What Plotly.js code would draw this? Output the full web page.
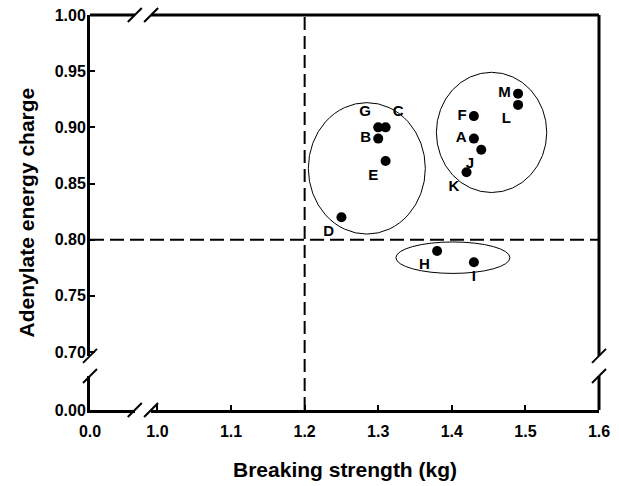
<!DOCTYPE html>
<html>
<head>
<meta charset="utf-8">
<script src="https://cdn.plot.ly/plotly-3.0.1.min.js"></script>
<style>html,body{margin:0;padding:0;background:#fff;}#chart{width:619px;height:486px;}</style>
</head>
<body>
<div id="chart"></div>
<script>
// ---- data ----
const labels   = ["A","B","C","D","E","F","G","H","I","J","K","L","M"];
const strength = [1.43,1.30,1.31,1.25,1.31,1.43,1.30,1.38,1.43,1.44,1.42,1.49,1.49];
const charge   = [0.89,0.89,0.90,0.82,0.87,0.91,0.90,0.79,0.78,0.88,0.86,0.92,0.93];
const labelPos = ["middle left","middle left","top right","bottom left","bottom left","middle left","top left","bottom left","bottom center","bottom left","bottom left","bottom left","middle left"];
// cluster ellipses: [xmin, xmax, ymin, ymax]
const clusterLeft   = [1.205, 1.364, 0.805, 0.922];
const clusterRight  = [1.379, 1.529, 0.842, 0.949];
const clusterBottom = [1.324, 1.479, 0.770, 0.798];
const refStrength = 1.2;
const refCharge = 0.80;
const xTicksHigh = [1.0,1.1,1.2,1.3,1.4,1.5,1.6];
const yTicksHigh = [0.70,0.75,0.80,0.85,0.90,0.95,1.00];

const F = "Liberation Sans, Arial, Helvetica, sans-serif";
const trace = {
  x: strength, y: charge, text: labels, textposition: labelPos,
  mode: "markers+text", type: "scatter", xaxis: "x2", yaxis: "y2",
  marker: {color: "#000", size: 10},
  textfont: {family: F, size: 15, color: "#000", weight: "bold"},
  cliponaxis: false, hoverinfo: "none"
};
// empty helper traces so each broken-axis panel exists
function empty(xa, ya) {
  return {x: [], y: [], type: "scatter", mode: "markers", xaxis: xa, yaxis: ya, hoverinfo: "none"};
}

const axCommon = {
  showline: true, linecolor: "#000", linewidth: 3, ticks: "inside", ticklen: 5,
  tickwidth: 2, tickcolor: "#000", showgrid: false, zeroline: false,
  tickfont: {family: F, size: 16, color: "#000", weight: "bold"}, fixedrange: true
};

const xLowDom = [0, 0.088], xHighDom = [0.120, 1];
const yLowDom = [0, 0.086], yHighDom = [0.137, 1];

function ellipse(c) {
  return {type: "circle", xref: "x2", yref: "y2", x0: c[0], x1: c[1], y0: c[2], y1: c[3],
          line: {color: "#000", width: 1}};
}
function slash(xa, ya) {
  return {type: "line", xref: "paper", yref: "paper", xsizemode: "pixel", ysizemode: "pixel",
          xanchor: xa, yanchor: ya, x0: -7, x1: 7, y0: -7, y1: 7, line: {color: "#000", width: 2}};
}
function seg(x0, x1, y0, y1) {
  return {type: "line", xref: "paper", yref: "paper", x0: x0, x1: x1, y0: y0, y1: y1,
          line: {color: "#000", width: 3}};
}

const shapes = [
  seg(xLowDom[0], xLowDom[1], 1, 1), seg(xHighDom[0], xHighDom[1], 1, 1),
  seg(1, 1, yLowDom[0], yLowDom[1]), seg(1, 1, yHighDom[0], yHighDom[1]),
  slash(xLowDom[1], 0), slash(xHighDom[0], 0), slash(xLowDom[1], 1), slash(xHighDom[0], 1),
  slash(0, yLowDom[1]), slash(0, yHighDom[0]), slash(1, yLowDom[1]), slash(1, yHighDom[0]),
  {type: "line", xref: "x2", yref: "paper", x0: refStrength, x1: refStrength, y0: 0, y1: 1,
   line: {color: "#000", width: 2, dash: "13px,6px"}},
  {type: "line", xref: "paper", yref: "y2", x0: 0, x1: 1, y0: refCharge, y1: refCharge,
   line: {color: "#000", width: 2, dash: "14px,6px"}},
  ellipse(clusterLeft), ellipse(clusterRight), ellipse(clusterBottom)
];

const layout = {
  width: 619, height: 486, paper_bgcolor: "#fff", plot_bgcolor: "rgba(0,0,0,0)",
  margin: {l: 90, r: 20, t: 15, b: 76}, showlegend: false,
  xaxis: Object.assign({}, axCommon, {domain: xLowDom, anchor: "y", range: [0, 0.06],
          tickvals: [0], tickformat: ".1f", ticklabelstandoff: 5}),
  xaxis2: Object.assign({}, axCommon, {domain: xHighDom, anchor: "y", range: [0.9913, 1.6],
          tickvals: xTicksHigh, tickformat: ".1f", ticklabelstandoff: 5}),
  yaxis: Object.assign({}, axCommon, {domain: yLowDom, anchor: "x", range: [0, 0.03],
          tickvals: [0], tickformat: ".2f", ticklabelstandoff: -2}),
  yaxis2: Object.assign({}, axCommon, {domain: yHighDom, anchor: "x", range: [0.6966, 1.0],
          tickvals: yTicksHigh, tickformat: ".2f", ticklabelstandoff: -2}),
  shapes: shapes,
  annotations: [
    {text: "Breaking strength (kg)", xref: "paper", yref: "paper", x: 0.5, y: 0,
     xanchor: "center", yanchor: "middle", yshift: -59, showarrow: false,
     font: {family: F, size: 21, color: "#000", weight: "bold"}},
    {text: "Adenylate energy charge", xref: "paper", yref: "paper", x: 0, y: 0.5,
     xanchor: "center", yanchor: "middle", xshift: -64, textangle: -90, showarrow: false,
     font: {family: F, size: 21, color: "#000", weight: "bold"}}
  ]
};

Plotly.newPlot("chart", [empty("x", "y"), empty("x2", "y"), empty("x", "y2"), trace], layout,
               {staticPlot: true, displayModeBar: false});
</script>
</body>
</html>
